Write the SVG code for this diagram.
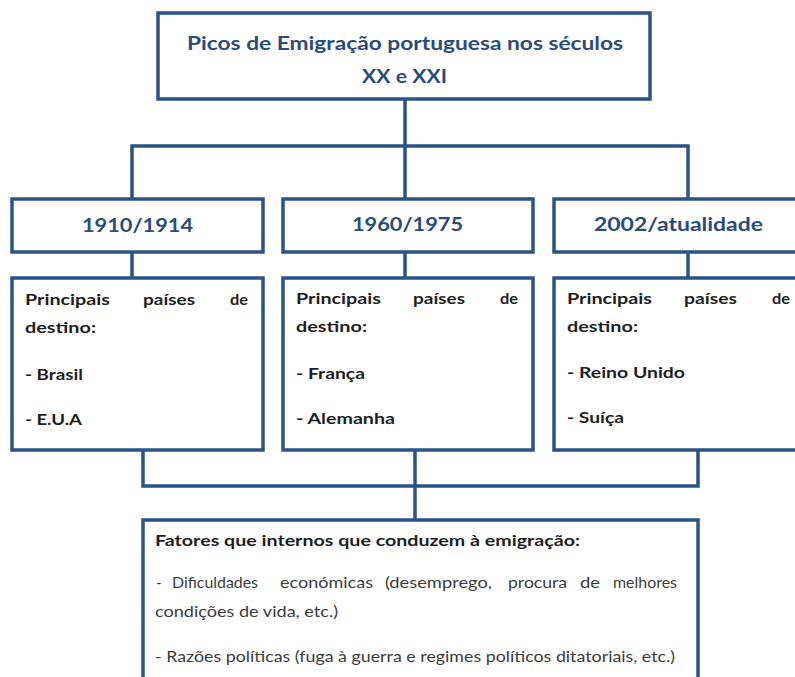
<svg xmlns="http://www.w3.org/2000/svg" width="795" height="677" viewBox="0 0 795 677">
<style>
.box{fill:#ffffff;stroke:#2b5386;stroke-width:3.5}
.ln{fill:none;stroke:#2b5386;stroke-width:3.5;stroke-linejoin:miter}
.hd{font-family:Lato,"Liberation Sans",sans-serif;font-weight:bold;fill:#284c7c;font-size:19px}
.bd{font-family:Lato,"Liberation Sans",sans-serif;font-weight:bold;fill:#1e1e1e;font-size:16px}
.rg{font-family:Lato,"Liberation Sans",sans-serif;fill:#3c3c3c;font-size:15px}
</style>
<rect width="795" height="677" fill="#ffffff"/>
<g id="connectors">
<path class="ln" d="M405 99 V199"/>
<path class="ln" d="M132 199 V146 H688 V199"/>
<path class="ln" d="M132 252 V278"/>
<path class="ln" d="M405 252 V278"/>
<path class="ln" d="M688 252 V278"/>
<path class="ln" d="M143 450 V486 H698 V450"/>
<path class="ln" d="M415 450 V520"/>
</g>
<g id="title">
<rect class="box" x="158" y="13" width="492" height="86"/>
<text class="hd" x="187" y="50" textLength="436" lengthAdjust="spacingAndGlyphs">Picos de Emigração portuguesa nos séculos</text>
<text class="hd" x="362" y="83" textLength="85" lengthAdjust="spacingAndGlyphs">XX e XXI</text>
</g>
<g id="period1">
<rect class="box" x="12" y="199" width="251" height="53"/>
<text class="hd" x="82" y="232" textLength="111" lengthAdjust="spacingAndGlyphs">1910/1914</text>
</g>
<g id="period2">
<rect class="box" x="283" y="199" width="250" height="53"/>
<text class="hd" x="352" y="231" textLength="111" lengthAdjust="spacingAndGlyphs">1960/1975</text>
</g>
<g id="period3">
<rect class="box" x="554" y="199" width="260" height="53"/>
<text class="hd" x="594" y="231" textLength="169" lengthAdjust="spacingAndGlyphs">2002/atualidade</text>
</g>
<g id="dest1">
<rect class="box" x="12" y="278" width="251" height="172"/>
<text class="bd" x="25" y="305" textLength="85" lengthAdjust="spacingAndGlyphs">Principais</text>
<text class="bd" x="143" y="305" textLength="52" lengthAdjust="spacingAndGlyphs">países</text>
<text class="bd" x="230" y="305" textLength="18" lengthAdjust="spacingAndGlyphs">de</text>
<text class="bd" x="25" y="333" textLength="71" lengthAdjust="spacingAndGlyphs">destino:</text>
<text class="bd" x="25" y="380" textLength="58" lengthAdjust="spacingAndGlyphs">- Brasil</text>
<text class="bd" x="25" y="425" textLength="57" lengthAdjust="spacingAndGlyphs">- E.U.A</text>
</g>
<g id="dest2">
<rect class="box" x="283" y="278" width="250" height="172"/>
<text class="bd" x="296" y="304" textLength="85" lengthAdjust="spacingAndGlyphs">Principais</text>
<text class="bd" x="413" y="304" textLength="52" lengthAdjust="spacingAndGlyphs">países</text>
<text class="bd" x="500" y="304" textLength="18" lengthAdjust="spacingAndGlyphs">de</text>
<text class="bd" x="296" y="332" textLength="71" lengthAdjust="spacingAndGlyphs">destino:</text>
<text class="bd" x="296" y="379" textLength="69" lengthAdjust="spacingAndGlyphs">- França</text>
<text class="bd" x="296" y="424" textLength="99" lengthAdjust="spacingAndGlyphs">- Alemanha</text>
</g>
<g id="dest3">
<rect class="box" x="554" y="278" width="260" height="172"/>
<text class="bd" x="567" y="304" textLength="85" lengthAdjust="spacingAndGlyphs">Principais</text>
<text class="bd" x="684" y="304" textLength="53" lengthAdjust="spacingAndGlyphs">países</text>
<text class="bd" x="772" y="304" textLength="18" lengthAdjust="spacingAndGlyphs">de</text>
<text class="bd" x="567" y="332" textLength="71" lengthAdjust="spacingAndGlyphs">destino:</text>
<text class="bd" x="567" y="378" textLength="118" lengthAdjust="spacingAndGlyphs">- Reino Unido</text>
<text class="bd" x="567" y="423" textLength="57" lengthAdjust="spacingAndGlyphs">- Suíça</text>
</g>
<g id="factors">
<rect class="box" x="143" y="520" width="555" height="180"/>
<text class="bd" x="155" y="546" textLength="425" lengthAdjust="spacingAndGlyphs">Fatores que internos que conduzem à emigração:</text>
<text class="rg" x="156" y="588">-</text>
<text class="rg" x="172" y="588" textLength="86" lengthAdjust="spacingAndGlyphs">Dificuldades</text>
<text class="rg" x="280" y="588" textLength="93" lengthAdjust="spacingAndGlyphs">económicas</text>
<text class="rg" x="385" y="588" textLength="107" lengthAdjust="spacingAndGlyphs">(desemprego,</text>
<text class="rg" x="508" y="588" textLength="59" lengthAdjust="spacingAndGlyphs">procura</text>
<text class="rg" x="580" y="588" textLength="20" lengthAdjust="spacingAndGlyphs">de</text>
<text class="rg" x="613" y="588" textLength="64" lengthAdjust="spacingAndGlyphs">melhores</text>
<text class="rg" x="155" y="617" textLength="183" lengthAdjust="spacingAndGlyphs">condições de vida, etc.)</text>
<text class="rg" x="155" y="662" textLength="520" lengthAdjust="spacingAndGlyphs">- Razões políticas (fuga à guerra e regimes políticos ditatoriais, etc.)</text>
</g>
</svg>
